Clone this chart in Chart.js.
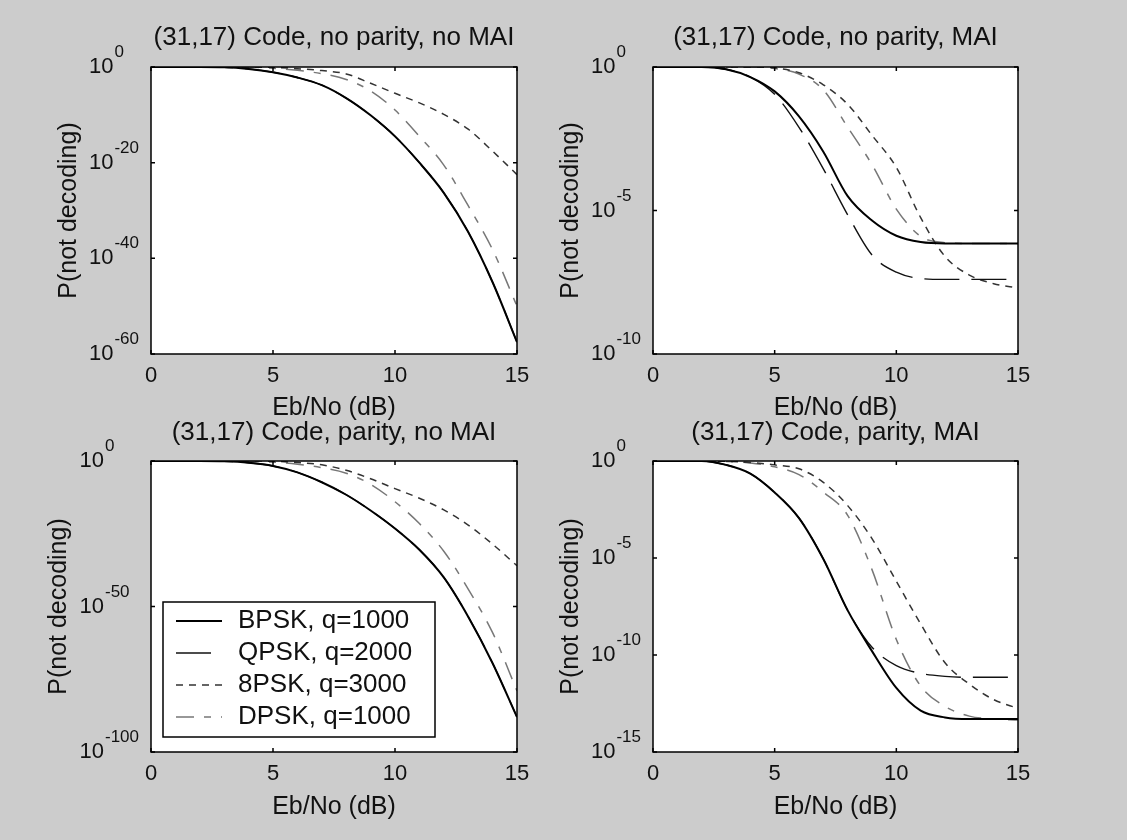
<!DOCTYPE html>
<html>
<head>
<meta charset="utf-8">
<script src="https://cdn.jsdelivr.net/npm/chart.js@4.4.0/dist/chart.umd.min.js"></script>
<style>
html, body { margin: 0; padding: 0; background: #cccccc; }
body { width: 1127px; height: 840px; position: relative; overflow: hidden; }
canvas { position: absolute; }
</style>
</head>
<body>
<canvas id="npNoMai"></canvas>
<canvas id="npMai"></canvas>
<canvas id="pNoMai"></canvas>
<canvas id="pMai"></canvas>
<script>
// Eb/No (dB)
const ebno = [0, 1, 2, 3, 4, 5, 6, 7, 8, 9, 10, 11, 12, 13, 14, 15];
const seriesNames = ['BPSK, q=1000', 'QPSK, q=2000', '8PSK, q=3000', 'DPSK, q=1000'];

// log10 of P(not decoding)

// (31,17) Code, no parity, no MAI
const bpskNpNoMai = [0, 0, 0, -0.05, -0.4, -1.1, -2.2, -3.8, -6.5, -10.1, -14.5, -20, -26.3, -34.5, -45, -57.5];
const qpskNpNoMai = [0, 0, 0, -0.05, -0.4, -1.1, -2.2, -3.8, -6.5, -10.1, -14.5, -20, -26.3, -34.5, -45, -57.5];
const psk8NpNoMai = [0, 0, 0, 0, -0.02, -0.1, -0.35, -0.75, -1.45, -3.4, -5.5, -7.5, -9.9, -13.0, -17.6, -22.5];
const dpskNpNoMai = [0, 0, 0, 0, -0.05, -0.25, -0.7, -1.4, -2.6, -5.0, -9.0, -14.5, -20.5, -29, -38.2, -50];

// (31,17) Code, no parity, MAI
const bpskNpMai = [0, 0, 0, -0.08, -0.35, -0.85, -1.72, -2.95, -4.5, -5.35, -5.88, -6.1, -6.15, -6.15, -6.15, -6.15];
const qpskNpMai = [0, 0, 0, -0.08, -0.35, -0.95, -2.1, -3.55, -5.15, -6.55, -7.15, -7.37, -7.4, -7.4, -7.4, -7.4];
const psk8NpMai = [0, 0, 0, 0, 0, -0.03, -0.2, -0.62, -1.3, -2.38, -3.5, -5.25, -6.6, -7.25, -7.55, -7.7];
const dpskNpMai = [0, 0, 0, 0, 0, -0.05, -0.25, -0.8, -2.1, -3.4, -4.95, -5.9, -6.12, -6.15, -6.15, -6.15];

// (31,17) Code, parity, no MAI
const bpskPNoMai = [0, 0, 0, -0.1, -0.6, -1.7, -3.9, -7.3, -11.6, -17, -23.2, -30.5, -40, -53.5, -69.5, -88];
const qpskPNoMai = [0, 0, 0, -0.1, -0.6, -1.7, -3.9, -7.3, -11.6, -17, -23.2, -30.5, -40, -53.5, -69.5, -88];
const psk8PNoMai = [0, 0, 0, 0, -0.02, -0.1, -0.5, -1.3, -3.2, -6.1, -9.5, -12.8, -16.8, -22.0, -28.6, -36];
const dpskPNoMai = [0, 0, 0, 0, -0.08, -0.4, -1.1, -2.3, -4.2, -8.0, -14.0, -21.5, -31, -44, -59, -79];

// (31,17) Code, parity, MAI
const bpskPMai = [0, 0, 0, -0.2, -0.65, -1.62, -2.94, -5.05, -7.7, -9.8, -11.7, -12.87, -13.22, -13.3, -13.3, -13.3];
const qpskPMai = [0, 0, 0, -0.2, -0.65, -1.62, -2.94, -5.05, -7.7, -9.6, -10.55, -10.95, -11.1, -11.15, -11.15, -11.15];
const psk8PMai = [0, 0, 0, -0.02, -0.08, -0.2, -0.4, -1.1, -2.3, -4.0, -6.2, -8.4, -10.4, -11.5, -12.3, -12.75];
const dpskPMai = [0, 0, 0, -0.02, -0.1, -0.3, -0.7, -1.6, -2.8, -5.6, -9.2, -11.6, -12.65, -13.15, -13.3, -13.35];

// tick labels (exponents of 10)
const xTicks = [0, 5, 10, 15];
const yTicksNpNoMai = [0, -20, -40, -60];
const yTicksNpMai = [0, -5, -10];
const yTicksPNoMai = [0, -50, -100];
const yTicksPMai = [0, -5, -10, -15];

const FONT = '"Liberation Sans", Arial, sans-serif';
const styles = [
  { color: '#000000', width: 2, dash: [] },
  { color: '#111111', width: 1.4, dash: [35, 12] },
  { color: '#333333', width: 1.5, dash: [7, 6] },
  { color: '#777777', width: 1.5, dash: [18, 10, 7, 10] }
];

// draws the matlab style box, inner ticks, 10^n labels and the legend
const matlabAxes = {
  id: 'matlabAxes',
  beforeDatasetsDraw(chart) {
    const ca = chart.chartArea, ctx = chart.ctx;
    ctx.save();
    ctx.fillStyle = '#ffffff';
    ctx.fillRect(ca.left, ca.top, ca.right - ca.left, ca.bottom - ca.top);
    ctx.restore();
  },
  afterDatasetsDraw(chart, args, opts) {
    const ca = chart.chartArea, ctx = chart.ctx;
    const xs = chart.scales.x, ys = chart.scales.y;
    ctx.save();
    ctx.strokeStyle = '#000';
    ctx.lineWidth = 1.5;
    ctx.setLineDash([]);
    ctx.strokeRect(ca.left, ca.top, ca.right - ca.left, ca.bottom - ca.top);
    ctx.beginPath();
    opts.xTicks.forEach(v => {
      const px = xs.getPixelForValue(v);
      ctx.moveTo(px, ca.bottom); ctx.lineTo(px, ca.bottom - 4);
      ctx.moveTo(px, ca.top); ctx.lineTo(px, ca.top + 4);
    });
    opts.yTicks.forEach(v => {
      const py = ys.getPixelForValue(v);
      ctx.moveTo(ca.left, py); ctx.lineTo(ca.left + 4, py);
      ctx.moveTo(ca.right, py); ctx.lineTo(ca.right - 4, py);
    });
    ctx.stroke();

    // 10^n labels
    ctx.fillStyle = '#111';
    ctx.font = '17px ' + FONT;
    let maxExp = 0;
    opts.yTicks.forEach(v => { maxExp = Math.max(maxExp, ctx.measureText(String(v)).width); });
    const baseRight = ca.left - 13 - maxExp;
    opts.yTicks.forEach(v => {
      const py = ys.getPixelForValue(v);
      ctx.font = '22px ' + FONT;
      ctx.textAlign = 'right';
      ctx.textBaseline = 'middle';
      ctx.fillText('10', baseRight, py);
      ctx.font = '17px ' + FONT;
      ctx.textAlign = 'left';
      ctx.textBaseline = 'alphabetic';
      ctx.fillText(String(v), baseRight + 1, py - 10);
    });

    if (opts.legend) {
      const lx = ca.left + 12, ly = ca.top + 141, lw = 272, lh = 135;
      ctx.fillStyle = '#fff';
      ctx.fillRect(lx, ly, lw, lh);
      ctx.strokeStyle = '#000';
      ctx.lineWidth = 1.5;
      ctx.strokeRect(lx, ly, lw, lh);
      ctx.font = '26px ' + FONT;
      ctx.textAlign = 'left';
      ctx.textBaseline = 'middle';
      chart.data.datasets.forEach((ds, i) => {
        const y = ly + 19 + i * 32;
        ctx.beginPath();
        ctx.setLineDash(ds.borderDash);
        ctx.strokeStyle = ds.borderColor;
        ctx.lineWidth = ds.borderWidth;
        ctx.moveTo(lx + 13, y);
        ctx.lineTo(lx + 59, y);
        ctx.stroke();
        ctx.setLineDash([]);
        ctx.fillStyle = '#111';
        ctx.fillText(ds.label, lx + 75, y);
      });
    }
    ctx.restore();
  }
};

function makeChart(id, box, area, pos, title, series, yTicks, legend) {
  const cv = document.getElementById(id);
  cv.width = box.w; cv.height = box.h;
  cv.style.left = box.x + 'px';
  cv.style.top = box.y + 'px';
  const left = area.left - box.x, top = area.top - box.y;
  const right = area.right - box.x, bottom = area.bottom - box.y;
  const titleLH = 26 * 1.2, labLH = 25 * 1.2, tickLH = 22 * 1.2;
  const titlePadTop = pos.titleY - box.y - titleLH / 2;

  const datasets = series.map((vals, i) => ({
    label: seriesNames[i],
    data: ebno.map((x, j) => ({ x: x, y: vals[j] })),
    borderColor: styles[i].color,
    borderWidth: styles[i].width,
    borderDash: styles[i].dash,
    pointRadius: 0,
    fill: false,
    cubicInterpolationMode: 'monotone'
  }));

  return new Chart(cv, {
    type: 'line',
    data: { datasets: datasets },
    options: {
      responsive: false,
      animation: false,
      events: [],
      layout: { padding: { left: 0, top: 0, right: box.w - right, bottom: 0 } },
      plugins: {
        legend: { display: false },
        tooltip: { enabled: false },
        title: {
          display: true,
          fullSize: false,
          text: title,
          color: '#111',
          font: { family: FONT, size: 26, weight: 'normal' },
          padding: { top: titlePadTop, bottom: top - titlePadTop - titleLH }
        },
        matlabAxes: { xTicks: xTicks, yTicks: yTicks, legend: legend }
      },
      scales: {
        x: {
          type: 'linear',
          min: 0, max: 15,
          grid: { display: false, drawTicks: false },
          border: { display: false },
          afterBuildTicks: s => { s.ticks = xTicks.map(v => ({ value: v })); },
          ticks: {
            color: '#111',
            font: { family: FONT, size: 22 },
            padding: pos.tickY - area.bottom - tickLH / 2,
            maxRotation: 0,
            autoSkip: false
          },
          title: {
            display: true,
            text: 'Eb/No (dB)',
            color: '#111',
            font: { family: FONT, size: 25 },
            padding: { top: 0, bottom: box.y + box.h - pos.xLabelY - labLH / 2 }
          },
          afterFit: s => { s.height = box.h - bottom; }
        },
        y: {
          type: 'linear',
          min: yTicks[yTicks.length - 1], max: 0,
          grid: { display: false, drawTicks: false },
          border: { display: false },
          ticks: { display: false },
          title: {
            display: true,
            text: 'P(not decoding)',
            color: '#111',
            font: { family: FONT, size: 25 },
            padding: { top: pos.yLabelX - box.x - labLH / 2, bottom: 0 }
          },
          afterFit: s => { s.width = left; }
        }
      }
    },
    plugins: [matlabAxes]
  });
}

makeChart('npNoMai',
  { x: 0, y: 0, w: 560, h: 430 },
  { left: 151, top: 67, right: 517, bottom: 354 },
  { titleY: 38, tickY: 376, xLabelY: 408, yLabelX: 69 },
  '(31,17) Code, no parity, no MAI',
  [bpskNpNoMai, qpskNpNoMai, psk8NpNoMai, dpskNpNoMai], yTicksNpNoMai, false);

makeChart('npMai',
  { x: 540, y: 0, w: 587, h: 430 },
  { left: 653, top: 67, right: 1018, bottom: 354 },
  { titleY: 38, tickY: 376, xLabelY: 408, yLabelX: 571 },
  '(31,17) Code, no parity, MAI',
  [bpskNpMai, qpskNpMai, psk8NpMai, dpskNpMai], yTicksNpMai, false);

makeChart('pNoMai',
  { x: 0, y: 400, w: 560, h: 440 },
  { left: 151, top: 461, right: 517, bottom: 752 },
  { titleY: 433, tickY: 774, xLabelY: 807, yLabelX: 59 },
  '(31,17) Code, parity, no MAI',
  [bpskPNoMai, qpskPNoMai, psk8PNoMai, dpskPNoMai], yTicksPNoMai, true);

makeChart('pMai',
  { x: 540, y: 400, w: 587, h: 440 },
  { left: 653, top: 461, right: 1018, bottom: 752 },
  { titleY: 433, tickY: 774, xLabelY: 807, yLabelX: 571 },
  '(31,17) Code, parity, MAI',
  [bpskPMai, qpskPMai, psk8PMai, dpskPMai], yTicksPMai, false);
</script>
</body>
</html>
